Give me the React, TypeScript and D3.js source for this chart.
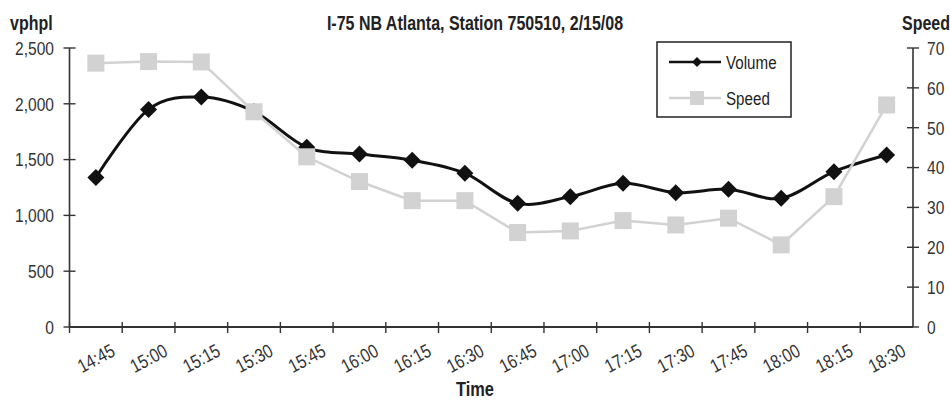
import React from "react";
import * as d3 from "d3";

const categories = ["14:45","15:00","15:15","15:30","15:45","16:00","16:15","16:30","16:45","17:00","17:15","17:30","17:45","18:00","18:15","18:30"];
const volume = [1340, 1950, 2060, 1930, 1610, 1550, 1495, 1378, 1108, 1168, 1287, 1204, 1235, 1153, 1392, 1541];
const speed = [66.2, 66.6, 66.5, 54.0, 42.7, 36.5, 31.7, 31.7, 23.7, 24.1, 26.7, 25.6, 27.3, 20.6, 32.7, 55.7];
const leftTicks = [0, 500, 1000, 1500, 2000, 2500];
const rightTicks = [0, 10, 20, 30, 40, 50, 60, 70];
const title = "I-75 NB Atlanta, Station 750510, 2/15/08";

const W = 950, H = 400;
const X0 = 69.5, X1 = 913, Y0 = 327, Y1 = 48;
const FONT = "'Liberation Sans', Arial, sans-serif";
const AXIS = "#333";
const SPEED_C = "#d2d2d2";
const SX = 0.82;

type NTProps = {
  x: number; y: number; size: number; anchor?: "start" | "middle" | "end";
  bold?: boolean; fill?: string; rotate?: number; dy?: string; children: React.ReactNode;
};
function NText({ x, y, size, anchor = "start", bold = false, fill = "#333", rotate = 0, dy, children }: NTProps) {
  return (
    <text
      transform={`translate(${x},${y}) rotate(${rotate}) scale(${SX},1)`}
      textAnchor={anchor}
      fontSize={size}
      fontWeight={bold ? "bold" : "normal"}
      fill={fill}
      dy={dy}
    >
      {children}
    </text>
  );
}

export default function App() {
  const x = d3.scaleBand<string>().domain(categories).range([X0, X1]);
  const cx = (c: string) => (x(c) as number) + x.bandwidth() / 2;
  const yL = d3.scaleLinear().domain([0, 2500]).range([Y0, Y1]);
  const yR = d3.scaleLinear().domain([0, 70]).range([Y0, Y1]);
  const fmt = d3.format(",");

  const volLine = d3.line<number>()
    .x((_, i) => cx(categories[i]))
    .y((d) => yL(d))
    .curve(d3.curveCardinal.tension(0));
  const spdLine = d3.line<number>()
    .x((_, i) => cx(categories[i]))
    .y((d) => yR(d));

  const diamond = (px: number, py: number, r: number) =>
    `M${px},${py - r}L${px + r},${py}L${px},${py + r}L${px - r},${py}Z`;

  return (
    <svg width={W} height={H} style={{ position: "absolute", left: 0, top: 0, background: "#fff" }} fontFamily={FONT}>
      {/* Titles */}
      <NText x={475} y={30} size={19.5} anchor="middle" bold fill="#222">{title}</NText>
      <NText x={10} y={30} size={19.5} bold fill="#222">vphpl</NText>
      <NText x={902} y={30} size={19.5} bold fill="#222">Speed</NText>

      {/* Left axis */}
      <line x1={X0} x2={X0} y1={Y1} y2={Y0} stroke={AXIS} strokeWidth={1.6} />
      {leftTicks.map((t) => (
        <g key={"l" + t}>
          <line x1={X0 - 6} x2={X0 + 6} y1={yL(t)} y2={yL(t)} stroke={AXIS} strokeWidth={1.4} />
          <NText x={54} y={yL(t)} dy="0.36em" size={19} anchor="end">{fmt(t)}</NText>
        </g>
      ))}

      {/* Right axis */}
      <line x1={X1} x2={X1} y1={Y1} y2={Y0} stroke={AXIS} strokeWidth={1.6} />
      {rightTicks.map((t) => (
        <g key={"r" + t}>
          <line x1={X1 - 6} x2={X1 + 6} y1={yR(t)} y2={yR(t)} stroke={AXIS} strokeWidth={1.4} />
          <NText x={927} y={yR(t)} dy="0.36em" size={19}>{t}</NText>
        </g>
      ))}

      {/* X axis */}
      <line x1={X0} x2={X1} y1={Y0} y2={Y0} stroke={AXIS} strokeWidth={1.8} />
      {categories.map((c, i) => (
        <line key={"xt" + i} x1={x(c) as number} x2={x(c) as number} y1={Y0 - 5} y2={Y0 + 6} stroke={AXIS} strokeWidth={1.4} />
      ))}
      {categories.map((c) => (
        <NText key={"xl" + c} x={cx(c)} y={358} dy="0.36em" size={19} anchor="middle" rotate={-28}>{c}</NText>
      ))}
      <NText x={475} y={396} size={20} anchor="middle" bold fill="#222">Time</NText>

      {/* Volume */}
      <path d={volLine(volume) || ""} fill="none" stroke="#111" strokeWidth={3} />
      {volume.map((v, i) => (
        <path key={"vd" + i} d={diamond(cx(categories[i]), yL(v), 8.5)} fill="#111" />
      ))}

      {/* Speed */}
      <path d={spdLine(speed) || ""} fill="none" stroke={SPEED_C} strokeWidth={2.5} />
      {speed.map((v, i) => (
        <rect key={"sq" + i} x={cx(categories[i]) - 8.5} y={yR(v) - 8.5} width={17} height={17} fill={SPEED_C} />
      ))}

      {/* Legend */}
      <rect x={657} y={42} width={134} height={75} fill="#fff" stroke="#222" strokeWidth={1.5} />
      <line x1={669} x2={721} y1={62} y2={62} stroke="#111" strokeWidth={2.5} />
      <path d={diamond(697, 62, 5)} fill="#111" />
      <NText x={726} y={62} dy="0.36em" size={18.5} fill="#222">Volume</NText>
      <line x1={669} x2={721} y1={98} y2={98} stroke={SPEED_C} strokeWidth={2.5} />
      <rect x={690} y={91} width={14} height={14} fill={SPEED_C} />
      <NText x={726} y={98} dy="0.36em" size={18.5} fill="#222">Speed</NText>
    </svg>
  );
}
